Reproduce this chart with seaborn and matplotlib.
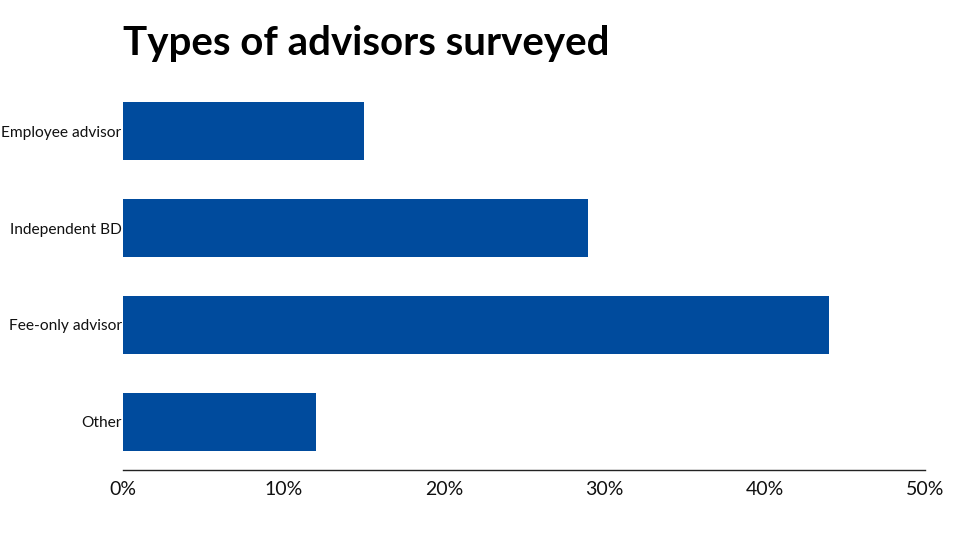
import matplotlib
matplotlib.use("Agg")
import matplotlib.pyplot as plt
import seaborn as sns
import pandas as pd
from matplotlib.ticker import FuncFormatter

categories = ["Employee advisor", "Independent BD", "Fee-only advisor", "Other"]
shares = [15, 29, 44, 12]
x_ticks = [0, 10, 20, 30, 40, 50]

df = pd.DataFrame({"type": categories, "share": shares})

sns.set_style("white")
plt.rcParams["font.family"] = ["Lato", "DejaVu Sans"]

fig = plt.figure(figsize=(9.78, 5.5), dpi=100)
ax = fig.add_axes([0.1258, 0.1455, 0.82, 0.7035])

sns.barplot(data=df, x="share", y="type", color="#004B9D", saturation=1,
            width=0.6, linewidth=0, ax=ax)

ax.set_xlim(0, 50)
ax.set_ylim(3.5, -0.5)
ax.set_xticks(x_ticks)
ax.xaxis.set_major_formatter(FuncFormatter(lambda v, p: f"{v:.0f}%"))
ax.tick_params(axis="x", length=0, labelsize=14, pad=8, colors="#111111")
ax.tick_params(axis="y", length=0, labelsize=11.2, pad=1, colors="#111111")
ax.set_xlabel("")
ax.set_ylabel("")

for s in ["top", "right", "left"]:
    ax.spines[s].set_visible(False)
ax.spines["bottom"].set_color("#222222")
ax.spines["bottom"].set_linewidth(1)

fig.text(0.1258, 0.9, "Types of advisors surveyed", fontsize=29,
         fontweight="bold", ha="left", va="baseline", color="black")

fig.savefig("out.png", dpi=100)
